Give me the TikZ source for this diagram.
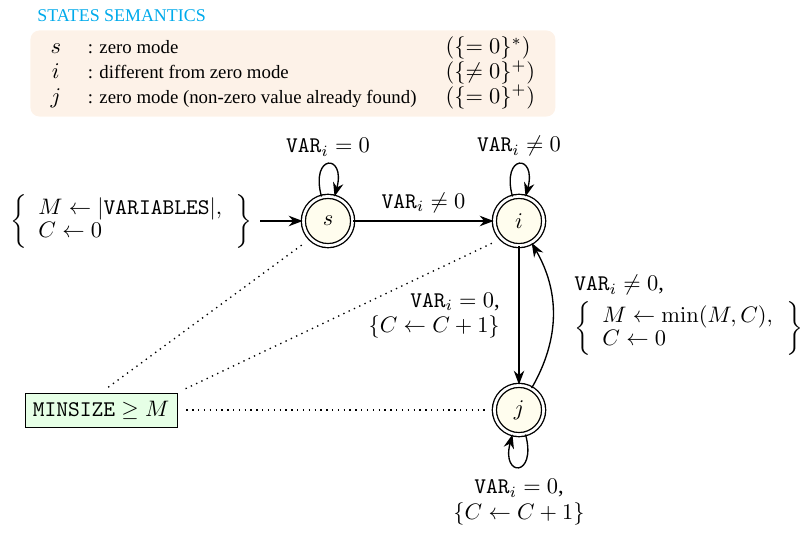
\documentclass[tikz,border=0pt]{standalone}
\usepackage{amsmath,amssymb}
\usepackage[no-math]{fontspec}
\setmainfont{Liberation Serif}
\usetikzlibrary{positioning, arrows.meta}

\definecolor{semblue}{RGB}{0,170,235}
\definecolor{sembg}{RGB}{253,242,232}
\definecolor{modefill}{RGB}{255,253,238}
\definecolor{limitfill}{RGB}{230,255,230}

\newcommand{\semmath}[1]{{\normalsize$#1$}}

\begin{document}
\begin{tikzpicture}[
        x=0.4465pt, y=0.4465pt,
        mode/.style={
            circle,
            draw,
            double,
            double distance=1.2pt,
            fill=modefill,
            minimum size=22pt,
            inner sep=0pt,
            semithick
        },
        legend/.style={rounded corners=4pt, fill=sembg, inner sep=3pt, font=\fontsize{8.4}{10}\selectfont},
        limit/.style={rectangle, draw, fill=limitfill, inner sep=3.5pt},
        line/.style={draw, -{Stealth[length=2.2mm]}, semithick},
        guide/.style={draw, dotted, semithick, shorten <=4pt, shorten >=4pt},
        every loop/.style={min distance=7mm}
    ]
        \useasboundingbox (0,0) rectangle (805,-534);

        % Legend
        \node [anchor=west, text=semblue, font=\footnotesize, inner sep=0pt] (title) at (37,-16) {STATES SEMANTICS};
        \node [legend, anchor=north west] (semantics) at (30,-30) {%
            \begin{tabular}{c@{\hspace{12pt}}l@{\hspace{13pt}}l@{\hspace{6pt}}}
                \semmath{s} & : zero mode & \semmath{(\{=0\}^*)}\\
                \semmath{i} & : different from zero mode & \semmath{(\{\neq 0\}^+)}\\
                \semmath{j} & : zero mode (non-zero value already found) & \semmath{(\{=0\}^+)}
            \end{tabular}};

        % Nodes
        \node [mode] (s) at (328,-221) {$s$};
        \node [mode] (i) at (519,-221) {$i$};
        \node [mode] (j) at (519,-410) {$j$};
        \node [left=19pt of s] (start) {$\renewcommand{\arraystretch}{0.87}\left\{\begin{array}{l@{\hspace{6pt}}} M \leftarrow |\texttt{VARIABLES}|, \\ C \leftarrow 0 \end{array}\right\}$};
        \node [limit] (minsize) at (101,-410) {$\texttt{MINSIZE} \geq M$};

        % Paths
        \path [line] (start) -- (s);
        \path [line] (s) to [loop above] node [above] {$\texttt{VAR}_i = 0$} (s);
        \path [line] (s) -- node [above] {$\texttt{VAR}_i \neq 0$} (i);
        \path [line] (i) to [loop above] node [above] {$\texttt{VAR}_i \neq 0$} (i);
        \path [line] (i) -- node [left=5pt, align=right] {$\texttt{VAR}_i = 0$,\\[-0.5pt] $\{C \leftarrow C+1\}$} (j);
        \path [line] (j) to [bend right=30] node [right=6pt, align=left] {$\texttt{VAR}_i \neq 0$,\\[2pt] $\renewcommand{\arraystretch}{0.87}\left\{\begin{array}{l@{\hspace{6pt}}} M \leftarrow \min(M,C), \\ C \leftarrow 0 \end{array}\right\}$} (i);
        \path [line] (j) to [loop below] node [below=2pt, align=center] {$\texttt{VAR}_i = 0$,\\[-0.5pt] $\{C \leftarrow C+1\}$} (j);

        % Dotted guides to the constraint
        \path [guide] (minsize.north) -- (s.south west);
        \path [guide] (minsize.north east) -- (i.south west);
        \path [guide] (minsize.east) -- (j.west);
    \end{tikzpicture}
\end{document}
